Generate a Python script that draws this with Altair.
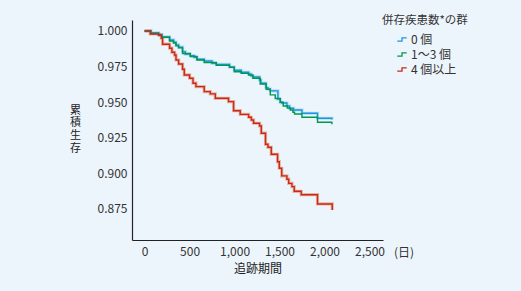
import altair as alt
import pandas as pd

groups = ["0 個", "1〜3 個", "4 個以上"]
colors = ["#1b97dc", "#00984a", "#c9281d"]
halo_colors = ["#8fcaf2", "#00984a", "#e08a60"]

days_0 = [0, 71, 156, 193, 278, 322, 349, 378, 422, 452, 508, 552, 582, 663, 749, 797, 944, 997, 1074, 1156, 1182, 1204, 1278, 1293, 1349, 1371, 1397, 1482, 1508, 1524, 1582, 1611, 1656, 1749, 1922, 2082, 2082]
surv_0 = [1.000, 0.9987, 0.9975, 0.9958, 0.9937, 0.9921, 0.9902, 0.9886, 0.9855, 0.9838, 0.9827, 0.9815, 0.9801, 0.9789, 0.9773, 0.9765, 0.9747, 0.9724, 0.9710, 0.9698, 0.9686, 0.9677, 0.9656, 0.9633, 0.9602, 0.9591, 0.9579, 0.9522, 0.9499, 0.9494, 0.9473, 0.9457, 0.9445, 0.9422, 0.9387, 0.9387, 0.9378]

days_1 = [0, 71, 156, 193, 278, 322, 349, 378, 422, 508, 582, 663, 797, 944, 997, 1074, 1156, 1204, 1286, 1352, 1397, 1452, 1508, 1541, 1586, 1619, 1649, 1667, 1749, 1922, 2082]
surv_1 = [1.000, 0.9982, 0.9968, 0.9956, 0.9930, 0.9916, 0.9895, 0.9881, 0.9842, 0.9821, 0.9796, 0.9779, 0.9758, 0.9744, 0.9714, 0.9702, 0.9691, 0.9668, 0.9628, 0.9591, 0.9551, 0.9526, 0.9499, 0.9473, 0.9459, 0.9445, 0.9429, 0.9417, 0.9394, 0.9359, 0.9345]

days_4 = [0, 63, 156, 186, 200, 278, 304, 333, 349, 378, 422, 441, 500, 538, 571, 663, 730, 786, 933, 989, 1063, 1156, 1186, 1211, 1278, 1297, 1344, 1371, 1408, 1478, 1497, 1524, 1582, 1602, 1638, 1663, 1741, 1922, 2086]
surv_4 = [1.000, 0.9979, 0.9972, 0.9949, 0.9907, 0.9879, 0.9850, 0.9831, 0.9796, 0.9768, 0.9731, 0.9691, 0.9668, 0.9633, 0.9609, 0.9574, 0.9558, 0.9527, 0.9504, 0.9440, 0.9414, 0.9394, 0.9375, 0.9352, 0.9333, 0.9282, 0.9204, 0.9183, 0.9134, 0.9082, 0.9036, 0.8982, 0.8959, 0.8930, 0.8907, 0.8874, 0.8850, 0.8785, 0.8743]

x_ticks = [0, 500, 1000, 1500, 2000, 2500]
y_ticks = [0.875, 0.900, 0.925, 0.950, 0.975, 1.000]

rows = []
for g, ds, ss in [(groups[0], days_0, surv_0), (groups[1], days_1, surv_1), (groups[2], days_4, surv_4)]:
    for i, (d, s) in enumerate(zip(ds, ss)):
        rows.append({"group": g, "day": d, "surv": s, "order": i})
df = pd.DataFrame(rows)

FONT = "Noto Sans CJK JP"

xscale = alt.Scale(domain=[-140, 2650], nice=False)
yscale = alt.Scale(domain=[0.8532, 1.0077], nice=False, zero=False)

x_enc = alt.X("day:Q", scale=xscale,
              axis=alt.Axis(values=x_ticks, format=",.0f", title="追跡期間", ticks=False,
                            grid=False, labelPadding=6, titlePadding=6))
y_enc = alt.Y("surv:Q", scale=yscale,
              axis=alt.Axis(values=y_ticks, format=".3f", title=["累", "積", "生", "存"],
                            ticks=False, grid=False, labelPadding=5,
                            titleAngle=0, titleX=-57, titleY=84, titleBaseline="top",
                            titleAlign="center", titleLineHeight=12.7, titleFontSize=11))

base = alt.Chart(df)

halo = base.transform_filter(alt.datum.group != groups[1]).mark_line(
    interpolate="step-after", strokeWidth=3.2, opacity=0.6
).encode(
    x=x_enc, y=y_enc,
    color=alt.Color("group:N", scale=alt.Scale(domain=groups, range=halo_colors), legend=None),
    order="order:Q",
)

lines = base.mark_line(interpolate="step-after", strokeWidth=1.4).encode(
    x=x_enc, y=y_enc,
    color=alt.Color("group:N", scale=alt.Scale(domain=groups, range=colors),
                    legend=alt.Legend(title="併存疾患数*の群", orient="none",
                                      legendX=250, legendY=-5,
                                      symbolType="M-1,0.35H0V-0.35H1",
                                      symbolSize=90, symbolStrokeWidth=1.3,
                                      symbolOffset=14, rowPadding=3,
                                      labelOffset=3, titlePadding=7)),
    order="order:Q",
)

unit = alt.Chart(pd.DataFrame({"t": ["(日)"]})).mark_text(
    font=FONT, fontSize=12, color="#333333", align="center", baseline="middle"
).encode(text="t:N", x=alt.value(272), y=alt.value(232.5))

chart = alt.layer(halo, lines, unit).resolve_scale(color="independent").properties(
    width=251, height=220,
    autosize=alt.AutoSizeParams(type="none"),
    padding={"left": 132, "top": 20, "right": 138, "bottom": 51},
    background="#edf5fc",
).configure_view(stroke=None).configure_axis(
    domainColor="#222222", domainWidth=1.2,
    labelFont=FONT, labelFontSize=12, labelColor="#333333",
    titleFont=FONT, titleFontSize=12, titleColor="#222222", titleFontWeight="normal",
).configure_legend(
    titleFont=FONT, titleFontSize=11.5, titleFontWeight="normal", titleColor="#333333",
    labelFont=FONT, labelFontSize=12, labelColor="#333333",
)

chart.save("out.html", embed_options={"renderer": "svg", "actions": False})
